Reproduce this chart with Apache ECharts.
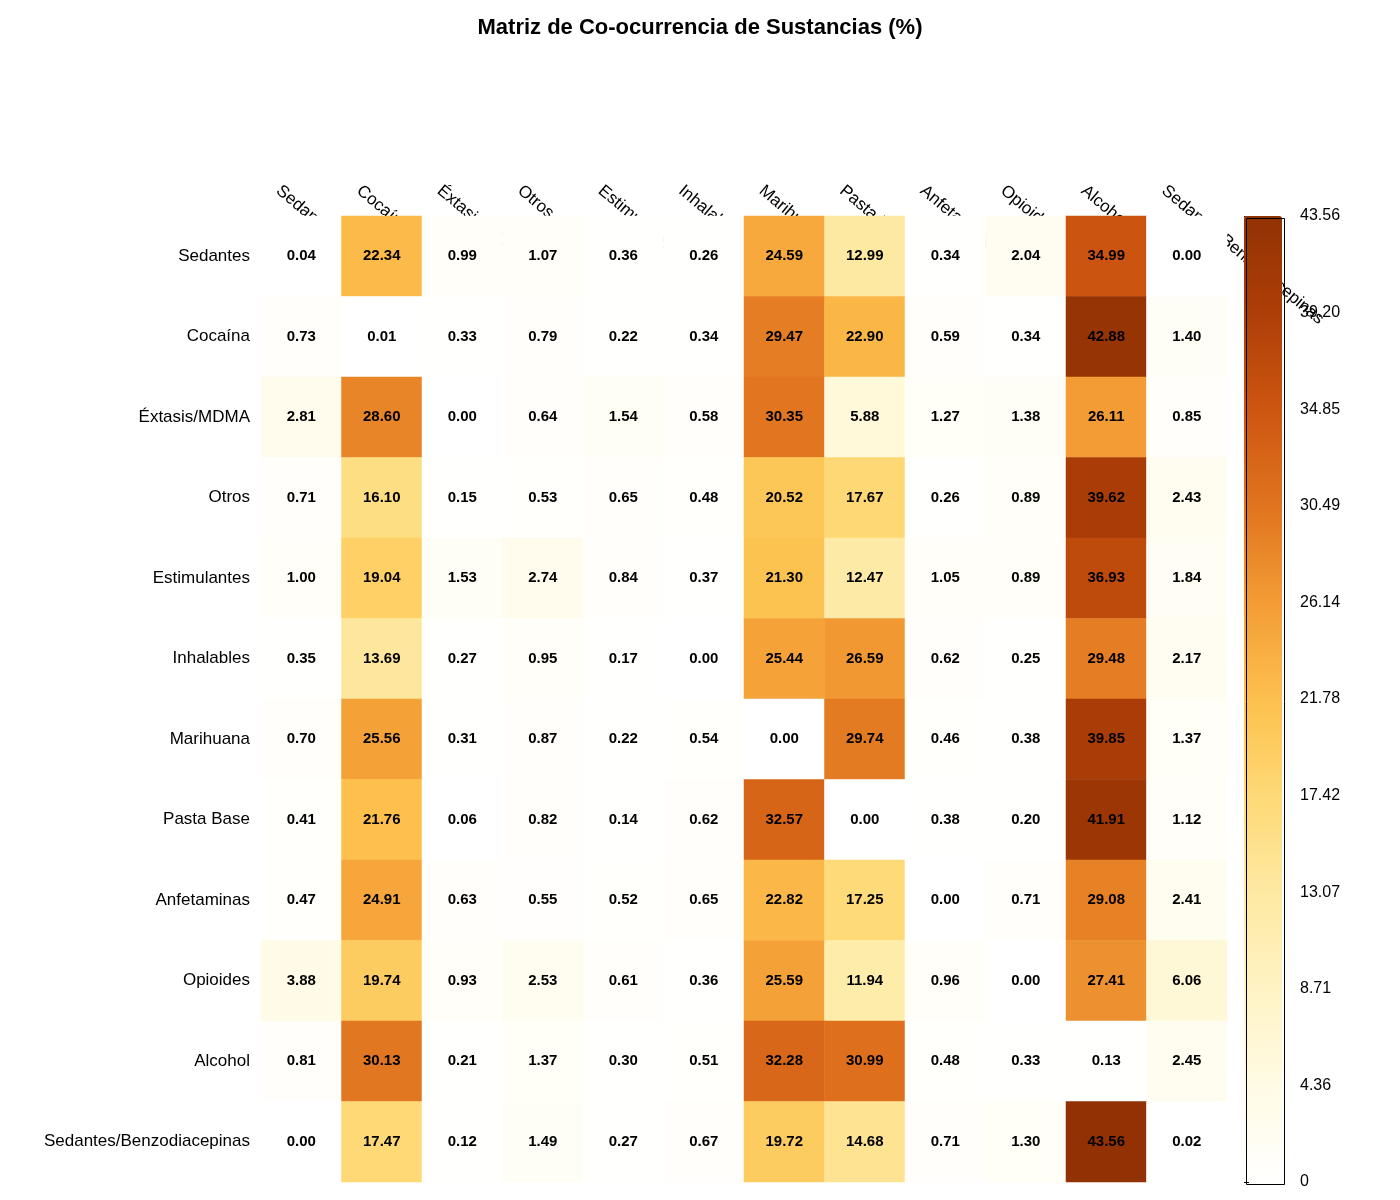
<!DOCTYPE html>
<html><head><meta charset="utf-8">
<script src="https://cdn.jsdelivr.net/npm/echarts@6/dist/echarts.min.js"></script>
<style>html,body{margin:0;background:#fff}#c{width:1400px;height:1200px}</style>
</head><body><div id="c"></div>
<script>
// sustancias (mismo orden en filas y columnas)
const labels = ['Sedantes', 'Cocaína', 'Éxtasis/MDMA', 'Otros', 'Estimulantes', 'Inhalables',
  'Marihuana', 'Pasta Base', 'Anfetaminas', 'Opioides', 'Alcohol', 'Sedantes/Benzodiacepinas'];

const rowSedantes = [0.04, 22.34, 0.99, 1.07, 0.36, 0.26, 24.59, 12.99, 0.34, 2.04, 34.99, 0.00];
const rowCocaina = [0.73, 0.01, 0.33, 0.79, 0.22, 0.34, 29.47, 22.90, 0.59, 0.34, 42.88, 1.40];
const rowExtasis = [2.81, 28.60, 0.00, 0.64, 1.54, 0.58, 30.35, 5.88, 1.27, 1.38, 26.11, 0.85];
const rowOtros = [0.71, 16.10, 0.15, 0.53, 0.65, 0.48, 20.52, 17.67, 0.26, 0.89, 39.62, 2.43];
const rowEstimulantes = [1.00, 19.04, 1.53, 2.74, 0.84, 0.37, 21.30, 12.47, 1.05, 0.89, 36.93, 1.84];
const rowInhalables = [0.35, 13.69, 0.27, 0.95, 0.17, 0.00, 25.44, 26.59, 0.62, 0.25, 29.48, 2.17];
const rowMarihuana = [0.70, 25.56, 0.31, 0.87, 0.22, 0.54, 0.00, 29.74, 0.46, 0.38, 39.85, 1.37];
const rowPastaBase = [0.41, 21.76, 0.06, 0.82, 0.14, 0.62, 32.57, 0.00, 0.38, 0.20, 41.91, 1.12];
const rowAnfetaminas = [0.47, 24.91, 0.63, 0.55, 0.52, 0.65, 22.82, 17.25, 0.00, 0.71, 29.08, 2.41];
const rowOpioides = [3.88, 19.74, 0.93, 2.53, 0.61, 0.36, 25.59, 11.94, 0.96, 0.00, 27.41, 6.06];
const rowAlcohol = [0.81, 30.13, 0.21, 1.37, 0.30, 0.51, 32.28, 30.99, 0.48, 0.33, 0.13, 2.45];
const rowBenzo = [0.00, 17.47, 0.12, 1.49, 0.27, 0.67, 19.72, 14.68, 0.71, 1.30, 43.56, 0.02];

const rows = [rowSedantes, rowCocaina, rowExtasis, rowOtros, rowEstimulantes, rowInhalables,
  rowMarihuana, rowPastaBase, rowAnfetaminas, rowOpioides, rowAlcohol, rowBenzo];

const maxVal = 43.56;
const colorStops = ['#ffffff', '#fffbe4', '#fff3c4', '#fee9a2', '#fed976', '#fdc04c',
  '#f39c35', '#e0741f', '#cd5511', '#ad3e07', '#923204'];

let cells = [];
rows.forEach((r, i) => r.forEach((v, j) => cells.push([j, i, v])));

const font = 'Liberation Sans, Arial, sans-serif';
const chart = echarts.init(document.getElementById('c'));
chart.setOption({
  backgroundColor: '#fff',
  textStyle: { fontFamily: font },
  title: {
    text: 'Matriz de Co-ocurrencia de Sustancias (%)', left: 'center', top: 12,
    textStyle: { fontSize: 22, fontWeight: 'bold', color: '#000', fontFamily: font }
  },
  grid: [
    { left: 261, top: 216, width: 966, height: 966 },
    { left: 1244, top: 216, width: 38, height: 966 }
  ],
  xAxis: [
    {
      type: 'category', data: labels, position: 'top', gridIndex: 0,
      axisLine: { show: false }, axisTick: { show: false }, splitLine: { show: false },
      axisLabel: { rotate: 40, fontSize: 17, color: '#000', margin: 8, align: 'left', verticalAlign: 'middle', padding: [0, 0, 0, -30] }
    },
    { type: 'value', gridIndex: 1, show: false, min: 0, max: 1 }
  ],
  yAxis: [
    {
      type: 'category', data: labels, inverse: true, gridIndex: 0,
      axisLine: { show: false }, axisTick: { show: false },
      axisLabel: { fontSize: 17, color: '#000', margin: 11 }
    },
    {
      type: 'value', gridIndex: 1, position: 'right', min: 0, max: maxVal, interval: maxVal / 10,
      axisLine: { show: false }, splitLine: { show: false },
      axisTick: { show: true, length: 5, inside: false, lineStyle: { color: '#000' } },
      axisLabel: { fontSize: 16, color: '#000', margin: 18, formatter: v => v === 0 ? '0' : v.toFixed(2) }
    }
  ],
  visualMap: {
    type: 'continuous', min: 0, max: maxVal, seriesIndex: 0,
    inRange: { color: colorStops },
    orient: 'vertical', left: 1244, top: 216, itemWidth: 38, itemHeight: 966,
    text: ['', ''], textGap: 0, padding: 0, calculable: false, showLabel: false,
    handleStyle: { opacity: 0 }, indicatorStyle: { opacity: 0 }
  },
  graphic: [{
    type: 'rect', left: 1244, top: 216, z: 100,
    shape: { width: 38, height: 966 },
    style: { fill: 'none', stroke: '#000', lineWidth: 1 }
  }],
  series: [{
    type: 'heatmap', xAxisIndex: 0, yAxisIndex: 0, data: cells,
    label: {
      show: true, fontSize: 15, fontWeight: 'bold', color: '#000',
      formatter: p => p.value[2].toFixed(2)
    },
    itemStyle: { borderWidth: 0 },
    emphasis: { disabled: true }
  }]
});
</script>
</body></html>
